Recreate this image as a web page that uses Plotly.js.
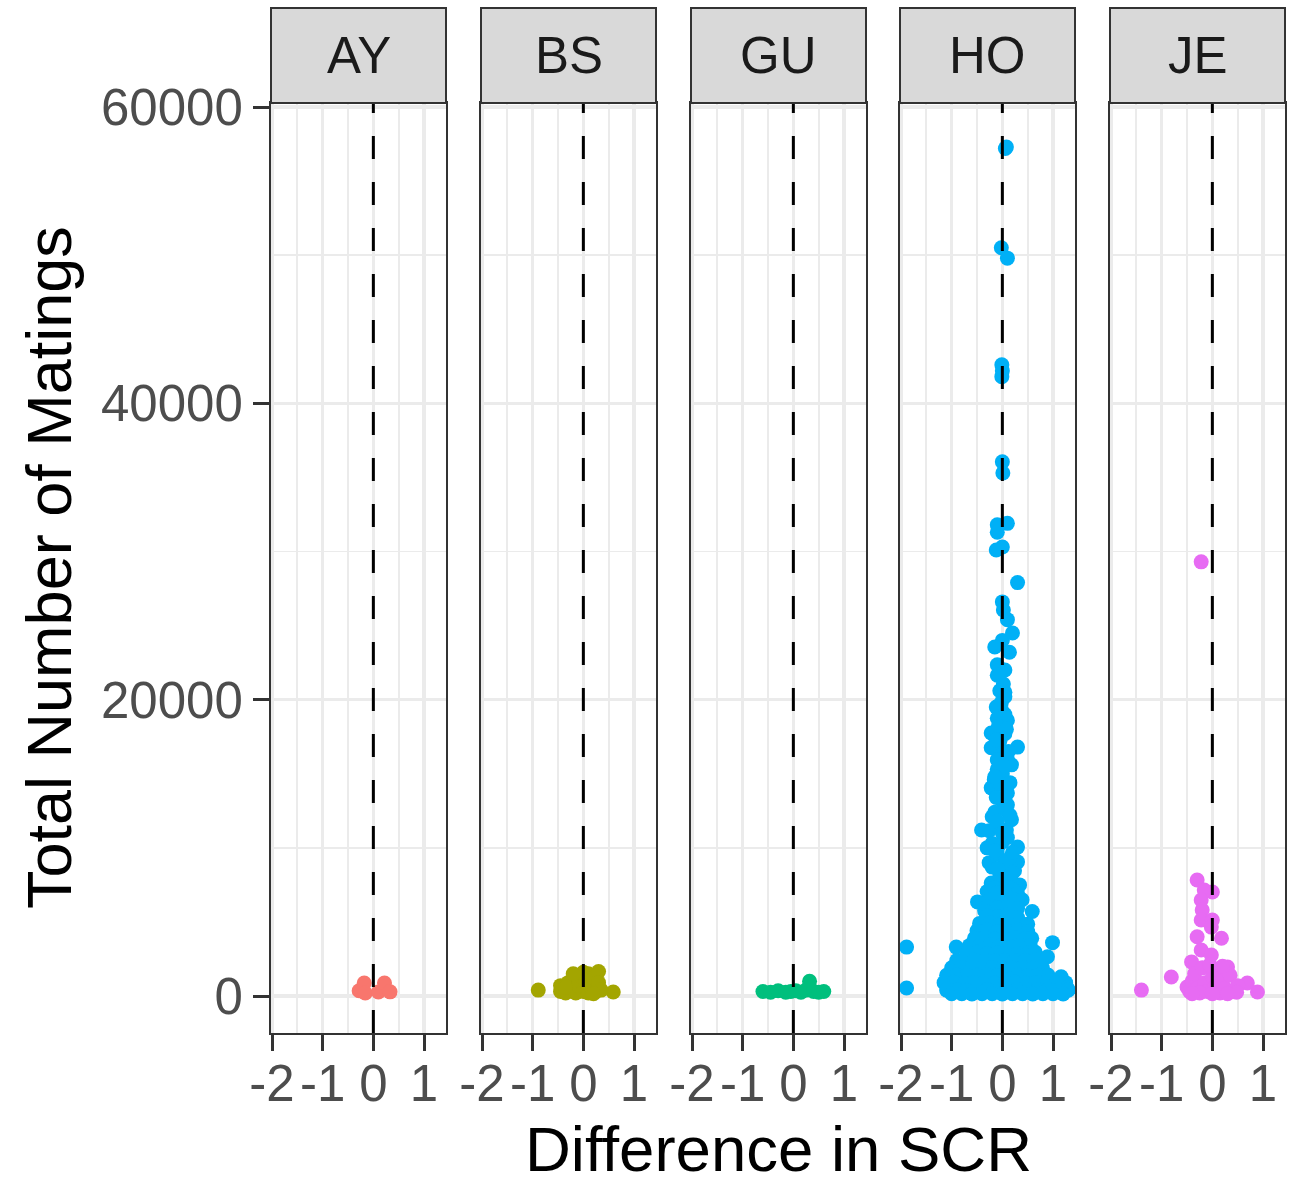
<!DOCTYPE html>
<html>
<head>
<meta charset="utf-8">
<script src="https://cdn.plot.ly/plotly-3.0.1.min.js"></script>
<style>html,body{margin:0;padding:0;background:#fff;}#chart{width:1299px;height:1178px;}</style>
</head>
<body>
<div id="chart"></div>
<script>
// ---------- data ----------
var breeds = ["AY", "BS", "GU", "HO", "JE"];
var colors = ["#F8766D", "#A3A500", "#00BF7D", "#00B0F6", "#E76BF3"];

var ayX = [-0.28, -0.18, -0.16, 0.10, 0.22, 0.33];
var ayY = [350, 880, 200, 270, 880, 280];

var bsX = [-0.89, 0.59, -0.45, -0.45, -0.35, -0.30, -0.25, -0.20, -0.15, -0.10, -0.05, 0.00, 0.00, 0.05, 0.10, 0.10, 0.15, 0.20, 0.25, 0.30, 0.30, 0.35, -0.20, -0.35, 0.20];
var bsY = [400, 270, 300, 700, 200, 900, 400, 1100, 200, 700, 1300, 300, 1600, 900, 200, 1500, 600, 1200, 300, 1650, 900, 400, 1500, 600, 150];

var guX = [-0.60, -0.45, -0.30, -0.15, -0.05, 0.05, 0.15, 0.25, 0.32, 0.40, 0.50, 0.60];
var guY = [300, 250, 350, 250, 300, 350, 250, 400, 1000, 300, 250, 300];

var hoX = [
  0.08, 0.06, -0.02, 0.10, -0.01, 0.00, -0.01, 0.00, 0.01,
  -0.10, 0.10, -0.10, 0.00, -0.12, 0.30,
  0.00, 0.02, 0.10, 0.20, 0.00, -0.15, 0.14, -0.10, 0.05, -0.10, 0.02,
  0.05, -0.02, -0.12, 0.00, -0.10, 0.10, -0.22, 0.05, -0.22, 0.30, 0.00, 0.18, -0.10,
  -0.16, -0.22, 0.08, -0.02, -0.20, 0.18, -0.41, -0.26, 0.08, -0.30, 0.30, -0.10,
  -0.26, 0.30, -0.06, 0.24, -0.22, 0.34,
  0.05, -0.05, 0.10, 0.00, -0.05, 0.10, 0.00, 0.05, -0.10, 0.10, 0.00, -0.10, 0.15, -0.05, 0.10,
  -0.05, 0.05, -0.08, 0.08, -0.12, 0.12, -0.10, 0.05, -0.15, 0.15, -0.12, 0.10, -0.15, 0.15, -0.10, 0.00, -0.20, 0.20, -0.15, 0.05, -0.20, 0.20, -0.10, 0.00, -0.15, 0.20,
  -0.30, -0.10, 0.10, 0.30,
  -0.49, -0.25, 0.00, 0.20, 0.39,
  -0.30, -0.10, 0.10, 0.30,
  0.59, -0.35,
  -0.30, -0.10, 0.10, 0.30,
  -0.45, -0.25, -0.05, 0.15, 0.35, 0.50,
  -0.50, -0.30, -0.10, 0.10, 0.30, 0.50,
  -0.55, -0.35, -0.15, 0.05, 0.25, 0.45, 0.58,
  -0.91, -1.89, 0.99,
  -0.65, -0.45, -0.25, -0.05, 0.15, 0.35, 0.55,
  -0.70, -0.50, -0.30, -0.10, 0.10, 0.30, 0.50, 0.65,
  0.89,
  -0.90, -0.75, -0.55, -0.35, -0.15, 0.05, 0.25, 0.45, 0.65,
  -1.00, -0.80, -0.60, -0.40, -0.20, 0.00, 0.20, 0.40, 0.60, 0.79,
  -1.10, -0.90, -0.70, -0.50, -0.30, -0.10, 0.10, 0.30, 0.50, 0.70, 0.90, 1.16,
  -1.15, -0.95, -0.75, -0.55, -0.35, -0.15, 0.05, 0.25, 0.45, 0.65, 0.85, 1.05, 1.25,
  -1.89, 1.28,
  -1.10, -0.90, -0.70, -0.50, -0.30, -0.10, 0.10, 0.30, 0.50, 0.70, 0.90, 1.10, 1.30,
  -1.00, -0.80, -0.60, -0.40, -0.20, 0.00, 0.20, 0.40, 0.60, 0.80, 1.00, 1.20
];
var hoY = [
  57300, 57200, 50500, 49800, 42600, 42200, 41800, 36050, 35300,
  31800, 31900, 31300, 30300, 30100, 27900,
  26600, 26050, 25400, 24500, 24000, 23550, 23200, 22350, 22000, 21650, 21050,
  20200, 19800, 19500, 19200, 18750, 18600, 17750, 17700, 16750, 16800, 16400, 15600, 15950,
  14600, 14050, 14100, 13250, 12100, 11900, 11200, 11150, 11200, 10000, 10050, 9900,
  9000, 9050, 8500, 8450, 7630, 7500,
  19000, 17200, 16000, 15000, 14300, 13700, 13200, 12600, 11500, 10700, 10400, 9600, 9300, 8100, 7900,
  20600, 20500, 18200, 18000, 17300, 16500, 15300, 15500, 14800, 14400, 13400, 12900, 12400, 12200, 11800, 11000, 10300, 9700, 9800, 9000, 8700, 8300, 8600, 7400, 7300, 7200,
  7050, 6950, 7000, 6900,
  6350, 6500, 6450, 6550, 6500,
  6000, 5950, 6050, 5900,
  5700, 5750,
  5400, 5350, 5450, 5300,
  4900, 4950, 4850, 4900, 4950, 4850,
  4400, 4450, 4350, 4400, 4450, 4350,
  3900, 3950, 3850, 3900, 3950, 3850, 3900,
  3300, 3300, 3600,
  3400, 3350, 3450, 3400, 3350, 3450, 3400,
  2900, 2950, 2850, 2900, 2950, 2850, 2900, 2950,
  2650,
  2400, 2380, 2420, 2400, 2380, 2420, 2400, 2380, 2420,
  1900, 1920, 1880, 1900, 1920, 1880, 1900, 1920, 1880, 1900,
  1400, 1420, 1380, 1400, 1420, 1380, 1400, 1420, 1380, 1400, 1420, 1300,
  900, 920, 880, 900, 920, 880, 900, 920, 880, 900, 920, 880, 900,
  540, 540,
  400, 420, 380, 400, 420, 380, 400, 420, 380, 400, 420, 380, 400,
  150, 160, 140, 150, 160, 140, 150, 160, 140, 150, 160, 140
];

var jeX = [-0.22, -0.30, 0.00, -0.16, -0.22, -0.20, -0.22, 0.00, -0.02, -0.30, 0.18, -0.22, -0.02, -0.41, -0.81, -1.40, 0.89, 0.69, 0.30,
  -0.50, -0.45, -0.40, -0.35, -0.30, -0.20, -0.15, -0.10, 0.00, 0.05, 0.10, 0.15, 0.20, 0.25, 0.35, 0.40, 0.50, 0.48, -0.25, -0.05, 0.20, -0.40, 0.00, 0.30];
var jeY = [29300, 7830, 7020, 7150, 6480, 5800, 5130, 5130, 4650, 4000, 3900, 3100, 2770, 2300, 1280, 400, 270, 880, 1960,
  600, 300, 1000, 1500, 500, 1900, 900, 300, 1300, 600, 1800, 200, 1000, 500, 1400, 300, 700, 250, 200, 2100, 2000, 150, 150, 150];

var xTickVals = [-2, -1, 0, 1];
var xTickText = ["-2", "-1", "0", "1"];
var yTickVals = [0, 20000, 40000, 60000];
var yTickText = ["0", "20000", "40000", "60000"];

var seriesX = [ayX, bsX, guX, hoX, jeX];
var seriesY = [ayY, bsY, guY, hoY, jeY];

// ---------- layout ----------
var FONT = "Liberation Sans, Arial, Helvetica, sans-serif";
var panelEdges = [[271, 446], [481, 656], [691, 866], [900, 1075], [1110, 1285]];
var plotL = 271, plotR = 1285, plotW = plotR - plotL;

var traces = [];
var layout = {
  width: 1299, height: 1178,
  margin: {l: plotL, r: 1299 - plotR, t: 103, b: 1178 - 1033, pad: 0},
  paper_bgcolor: "#FFFFFF", plot_bgcolor: "#FFFFFF",
  showlegend: false,
  font: {family: FONT, color: "#4D4D4D"},
  shapes: [], annotations: []
};

breeds.forEach(function (b, i) {
  var n = i === 0 ? "" : String(i + 1);
  traces.push({
    type: "scatter", mode: "markers",
    x: seriesX[i], y: seriesY[i],
    xaxis: "x" + n, yaxis: "y" + n,
    marker: {color: colors[i], size: 15, line: {width: 0}},
    hoverinfo: "x+y", name: b
  });
  var d0 = (panelEdges[i][0] - plotL) / plotW, d1 = (panelEdges[i][1] - plotL) / plotW;
  layout["xaxis" + n] = {
    domain: [d0, d1], anchor: "y" + n,
    range: [-2.02, 1.434], autorange: false,
    tickvals: xTickVals, ticktext: xTickText, tickangle: 0,
    ticks: "outside", ticklen: 16, tickwidth: 3, tickcolor: "#333333",
    ticklabelstandoff: -11,
    tickfont: {family: FONT, size: 51, color: "#4D4D4D"},
    showgrid: true, gridcolor: "#EBEBEB", gridwidth: 3.4,
    minor: {dtick: 0.5, tick0: 0, showgrid: true, gridcolor: "#EBEBEB", gridwidth: 1.8, ticks: ""},
    showline: true, mirror: true, linecolor: "#333333", linewidth: 2,
    zeroline: false, fixedrange: true
  };
  if (i > 0) layout["xaxis" + n].matches = "x";
  layout["yaxis" + n] = {
    domain: [0, 1], anchor: "x" + n,
    range: [-2497, 60270], autorange: false,
    tickvals: yTickVals, ticktext: yTickText,
    ticks: i === 0 ? "outside" : "", ticklen: 16, tickwidth: 3, tickcolor: "#333333",
    showticklabels: i === 0,
    tickfont: {family: FONT, size: 51, color: "#4D4D4D"},
    showgrid: true, gridcolor: "#EBEBEB", gridwidth: 3.4,
    minor: {dtick: 10000, tick0: 0, showgrid: true, gridcolor: "#EBEBEB", gridwidth: 1.8, ticks: ""},
    showline: true, mirror: true, linecolor: "#333333", linewidth: 2,
    zeroline: false, fixedrange: true
  };
  if (i > 0) layout["yaxis" + n].matches = "y";

  // dashed vertical line at 0
  layout.shapes.push({
    type: "line", xref: "x" + n, yref: "y" + n + " domain",
    x0: 0, x1: 0, y0: 0, y1: 1,
    line: {color: "#000000", width: 3, dash: "23px,23px"}, layer: "above"
  });
  // strip
  layout.shapes.push({
    type: "rect", xref: "x" + n + " domain", yref: "paper",
    x0: 0, x1: 1, y0: 1.0, y1: 1 + 95 / 930,
    fillcolor: "#D9D9D9", line: {color: "#333333", width: 2}, layer: "above"
  });
  layout.annotations.push({
    xref: "x" + n + " domain", yref: "paper", x: 0.5, y: 1 + 47.5 / 930,
    xanchor: "center", yanchor: "middle", showarrow: false,
    text: b, font: {family: FONT, size: 51, color: "#1A1A1A"}
  });
});

layout.annotations.push({
  xref: "paper", yref: "paper", x: 0.5, y: -116 / 930,
  xanchor: "center", yanchor: "middle", showarrow: false,
  text: "Difference in SCR", font: {family: FONT, size: 63.5, color: "#000000"}
});
layout.annotations.push({
  xref: "paper", yref: "paper", x: (49 - plotL) / plotW, y: 0.5,
  xanchor: "center", yanchor: "middle", showarrow: false, textangle: -90,
  text: "Total Number of Matings", font: {family: FONT, size: 63, color: "#000000"}
});

Plotly.newPlot("chart", traces, layout, {staticPlot: true, displayModeBar: false});
</script>
</body>
</html>
